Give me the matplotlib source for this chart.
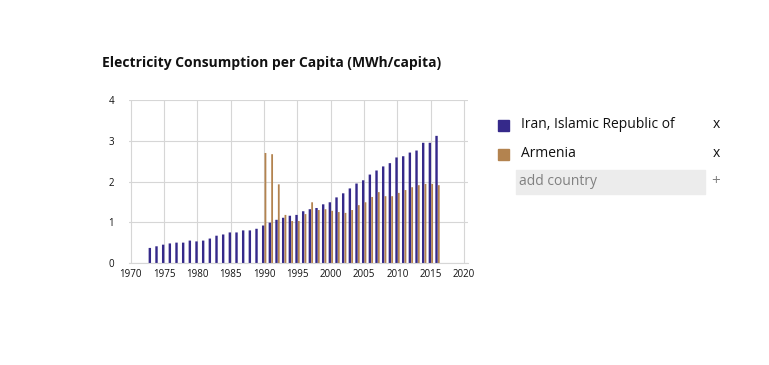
import matplotlib

matplotlib.use("Agg")
import matplotlib.pyplot as plt
import numpy as np
from matplotlib.patches import Rectangle

plt.rcParams["font.family"] = ["Open Sans", "DejaVu Sans"]

# values (MWh per capita)
iran_years = np.arange(1973, 2017)
iran_values = [
    0.37, 0.41, 0.45, 0.48, 0.50, 0.50, 0.55, 0.53, 0.55, 0.60,
    0.67, 0.70, 0.75, 0.75, 0.80, 0.80, 0.84, 0.92, 0.99, 1.06,
    1.11, 1.16, 1.18, 1.27, 1.32, 1.35, 1.44, 1.49, 1.61, 1.71,
    1.83, 1.95, 2.03, 2.17, 2.27, 2.37, 2.45, 2.59, 2.62, 2.71,
    2.76, 2.95, 2.95, 3.12,
]
armenia_years = np.arange(1990, 2017)
armenia_values = [
    2.70, 2.67, 1.93, 1.18, 1.03, 1.03, 1.20, 1.49, 1.30, 1.32,
    1.28, 1.25, 1.23, 1.30, 1.42, 1.49, 1.62, 1.74, 1.64, 1.64,
    1.72, 1.79, 1.86, 1.91, 1.94, 1.94, 1.91,
]
series_names = ["Iran, Islamic Republic of", "Armenia"]
series_colors = ["#35298a", "#b3834f"]
x_ticks = np.arange(1970, 2021, 5)
y_ticks = [0, 1, 2, 3, 4]

fig = plt.figure(figsize=(7.69, 3.65), dpi=100)
ax = fig.add_axes([129.3 / 769, 1 - 263 / 365, (468 - 129.3) / 769, 163 / 365])

ax.bar(iran_years - 0.12, iran_values, width=0.36, color=series_colors[0],
       zorder=2, snap=False, linewidth=0)
ax.bar(armenia_years + 0.22, armenia_values, width=0.27, color=series_colors[1],
       zorder=2, snap=False, linewidth=0)

ax.set_xlim(1969.8, 2020.6)
ax.set_ylim(0, 4)
ax.set_xticks(x_ticks)
ax.set_yticks(y_ticks)
ax.tick_params(length=0, labelsize=7, colors="#111111", pad=4)
ax.tick_params(axis="y", pad=11)
ax.grid(True, color="#d6d6d6", linewidth=0.8, zorder=0)
for s in ("top", "right", "left"):
    ax.spines[s].set_visible(False)
ax.spines["bottom"].set_color("#d6d6d6")
ax.spines["bottom"].set_linewidth(0.8)

fig.text(102 / 769, 1 - 63 / 365, "Electricity Consumption per Capita (MWh/capita)",
         fontsize=10, fontweight="bold", va="center", ha="left", color="#111111")

# legend panel on the right
for i, (name, col) in enumerate(zip(series_names, series_colors)):
    y = 1 - (125 + i * 29) / 365
    fig.patches.append(Rectangle((498 / 769, y - 6 / 365), 11 / 769, 11 / 365,
                                 transform=fig.transFigure, color=col))
    fig.text(521 / 769, y + 1 / 365, name, fontsize=10, va="center", ha="left", color="#111111")
    fig.text(716 / 769, y + 1 / 365, "x", fontsize=10, va="center", ha="center", color="#111111")

fig.patches.append(Rectangle((516 / 769, 1 - 194 / 365), 189 / 769, 24 / 365,
                             transform=fig.transFigure, color="#ececec"))
fig.text(519 / 769, 1 - 182 / 365, "add country", fontsize=10, va="center", ha="left", color="#808080")
fig.text(716 / 769, 1 - 181 / 365, "+", fontsize=11, va="center", ha="center", color="#808080")

fig.savefig("out.png", dpi=100)
